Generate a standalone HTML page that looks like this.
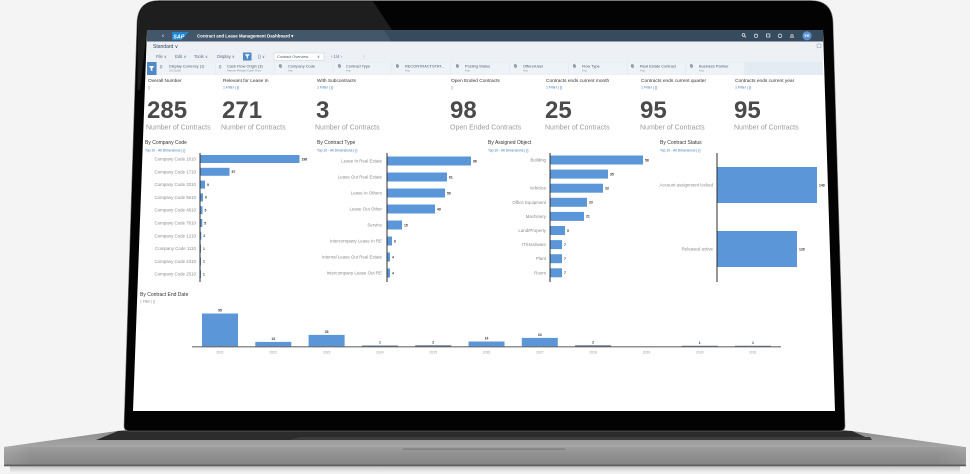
<!DOCTYPE html>
<html><head><meta charset="utf-8">
<style>
html,body{margin:0;padding:0}
body{width:970px;height:474px;overflow:hidden;background:#f4f4f4;position:relative;font-family:"Liberation Sans",sans-serif}
svg{position:absolute;left:0;top:0}
</style></head>
<body>
<svg width="970" height="474" viewBox="0 0 970 474" xmlns="http://www.w3.org/2000/svg" font-family="Liberation Sans, sans-serif">
<defs>
<linearGradient id="edge" x1="0" y1="0" x2="0" y2="1">
<stop offset="0" stop-color="#a4a4a4"/><stop offset="0.35" stop-color="#939393"/><stop offset="1" stop-color="#7f7f7f"/>
</linearGradient>
<linearGradient id="edgeL" x1="0" y1="0" x2="1" y2="0">
<stop offset="0" stop-color="#b8b8b8"/><stop offset="0.03" stop-color="#8f8f8f"/><stop offset="0.97" stop-color="#8f8f8f"/><stop offset="1" stop-color="#b0b0b0"/>
</linearGradient>
<linearGradient id="deck" x1="0" y1="0" x2="0" y2="1">
<stop offset="0" stop-color="#8a8a8a"/><stop offset="1" stop-color="#a6a6a6"/>
</linearGradient>
<linearGradient id="shadow" x1="0" y1="0" x2="0" y2="1">
<stop offset="0" stop-color="#bdbdbd"/><stop offset="1" stop-color="#f4f4f4"/>
</linearGradient>
</defs>

<!-- base -->
<rect x="10" y="465" width="950" height="8" fill="url(#shadow)"/>
<polygon points="124,430 845,430 965,447 4,447" fill="url(#deck)"/>
<polygon points="118,431 852,431 872,440 96,440" fill="#2c2c2c"/>
<polygon points="300,437 870,437 872,440 290,440" fill="#3d3d3d"/>
<path d="M4,447 H966 V462 Q966,466 962,466 H8 Q4,466 4,462 Z" fill="url(#edge)"/>
<path d="M4,447 H966 V462 Q966,466 962,466 H8 Q4,466 4,462 Z" fill="url(#edgeL)" opacity="0.35"/>
<rect x="4" y="464.5" width="962" height="1.8" fill="#5f5f5f"/>
<rect x="403" y="448.5" width="162" height="1.2" fill="#7a7a7a"/>

<!-- lid -->
<path d="M159,0.5 H811 Q832,0.5 833,22 L845,426 Q845,431 840,431 H129 Q124,431 124,426 L137,22 Q138,0.5 159,0.5 Z" fill="#030303" stroke="#7a7a7a" stroke-width="0.6"/>
<path d="M159,1.2 H373 L392,30 H147 L140,90 L137.5,90 L137.8,22 Q138.5,1.2 159,1.2 Z" fill="#1e1e1e"/>
<!-- screen -->
<polygon points="147,30 823,30 835,411 133,411" fill="#ffffff"/>

<!-- shell bar -->
<rect x="147" y="30" width="676" height="11.5" fill="#374b5f"/>
<polygon points="147,30 384,30 391,41.5 147,41.5" fill="#43576b"/>
<text x="162" y="37.6" font-size="6" fill="#fff">‹</text>
<polygon points="172,32 189,32 181,40 172,40" fill="#1f87d2"/>
<text x="173.3" y="38.6" font-size="5.4" font-weight="bold" font-style="italic" fill="#fff">SAP</text>
<text x="197" y="37.3" font-size="4.4" font-weight="bold" fill="#fff">Contract and Lease Management Dashboard ▾</text>
<g fill="none" stroke="#e6ecf2" stroke-width="0.7">
<circle cx="743.5" cy="35" r="1.4"/><line x1="744.5" y1="36" x2="746" y2="37.5"/>
<circle cx="756" cy="35.8" r="1.7"/>
<rect x="766.5" y="34" width="3.4" height="3" />
<circle cx="780" cy="35.8" r="1.8"/>
<path d="M790.5,37.2 H793.5 L793,36.5 V35 Q792,33.6 791,35 V36.5 Z"/>
</g>
<circle cx="807" cy="35.8" r="4.6" fill="#5a8fd1"/>
<text x="807" y="37.1" font-size="3.6" fill="#fff" text-anchor="middle" font-weight="bold">ER</text>

<!-- second rows -->
<rect x="147" y="41.5" width="676" height="20.5" fill="#edf1f5"/>
<text x="153" y="47.8" font-size="5" fill="#32465a">Standard ∨</text>
<rect x="817" y="44" width="4" height="3.6" fill="none" stroke="#8aa0b5" stroke-width="0.5"/>
<g font-size="4.2" fill="#5b6f84">
<text x="156" y="58">File ∨</text>
<text x="175" y="58">Edit ∨</text>
<text x="194" y="58">Tools ∨</text>
<text x="217" y="58">Display ∨</text>
<text x="258" y="58">{} ∨</text>
<text x="331" y="58">‹   1/4   ›</text>
<text x="362" y="58">⋮</text>
</g>
<rect x="243" y="52.5" width="8.5" height="8" fill="#4f89c8"/>
<path d="M244.8,54.3 H249.8 L247.8,56.8 V59 L246.8,58.4 V56.8 Z" fill="#fff"/>
<rect x="274" y="53" width="50" height="7.5" fill="#fff" stroke="#c4ccd4" stroke-width="0.5"/>
<text x="277" y="58" font-size="3.8" fill="#4a5a6a">Contract Overview</text>
<text x="317" y="58" font-size="3.8" fill="#4a5a6a">∨</text>

<!-- filter bar -->
<rect x="147" y="62" width="676" height="13" fill="#e4ebf2"/>
<rect x="147" y="62" width="9.5" height="13" fill="#4f89c8"/>
<path d="M148.8,66 H154.3 L152.3,68.5 V71.2 L150.8,70.4 V68.5 Z" fill="#fff"/>
<g fill="#eef3f8">
<rect x="157.2" y="62.4" width="57.8" height="12.2"/>
<rect x="216" y="62.4" width="57.8" height="12.2"/>
<rect x="274.8" y="62.4" width="57.8" height="12.2"/>
<rect x="333.6" y="62.4" width="57.8" height="12.2"/>
<rect x="392.4" y="62.4" width="57.8" height="12.2"/>
<rect x="451.2" y="62.4" width="57.8" height="12.2"/>
<rect x="510" y="62.4" width="57.8" height="12.2"/>
<rect x="568.8" y="62.4" width="57.8" height="12.2"/>
<rect x="627.6" y="62.4" width="57.8" height="12.2"/>
<rect x="686.4" y="62.4" width="57.8" height="12.2"/>
</g>
<g font-size="3.9" fill="#4a5a6a">
<text x="160" y="67.6">{}</text><text x="169" y="67.4">Display Currency (1)</text>
<text x="219" y="67.6">{}</text><text x="227" y="67.4">Cash Flow Origin (3)</text>
<text x="279" y="67.6">⧉</text><text x="288" y="67.4">Company Code</text>
<text x="338" y="67.6">⧉</text><text x="346" y="67.4">Contract Type</text>
<text x="396" y="67.6">⧉</text><text x="405" y="67.4">RECONTRACTSTAT...</text>
<text x="456" y="67.6">⧉</text><text x="465" y="67.4">Posting Status</text>
<text x="514" y="67.6">⧉</text><text x="523" y="67.4">OffererUser</text>
<text x="573" y="67.6">⧉</text><text x="582" y="67.4">Flow Type</text>
<text x="631" y="67.6">⧉</text><text x="640" y="67.4">Real Estate Contract</text>
<text x="690" y="67.6">⧉</text><text x="699" y="67.4">Business Partner</text>
</g>
<g font-size="2.8" fill="#8a96a2">
<text x="169" y="71.4">US Dollar</text>
<text x="227" y="71.4">Partner-Related Cash Flow</text>
<text x="288" y="71.4">Any</text><text x="346" y="71.4">Any</text><text x="405" y="71.4">Any</text>
<text x="465" y="71.4">Any</text><text x="523" y="71.4">Any</text><text x="582" y="71.4">Any</text>
<text x="640" y="71.4">Any</text><text x="699" y="71.4">Any</text>
</g>

<!-- KPI tiles -->
<g font-size="4.8" fill="#333">
<text x="148" y="81.8">Overall Number</text>
<text x="223" y="81.8">Relevant for Lease In</text>
<text x="317" y="81.8">With Subcontracts</text>
<text x="451" y="81.8">Open Ended Contracts</text>
<text x="546" y="81.8">Contracts ends current month</text>
<text x="641" y="81.8">Contracts ends current quarter</text>
<text x="735" y="81.8">Contracts ends current year</text>
</g>
<g font-size="3.6">
<text x="148" y="88.6" fill="#999">{}</text>
<text x="223" y="88.6" fill="#3a77b8">1 Filter | {}</text>
<text x="317" y="88.6" fill="#3a77b8">1 Filter | {}</text>
<text x="451" y="88.6" fill="#999">{}</text>
<text x="546" y="88.6" fill="#3a77b8">1 Filter | {}</text>
<text x="641" y="88.6" fill="#3a77b8">1 Filter | {}</text>
<text x="735" y="88.6" fill="#3a77b8">1 Filter | {}</text>
</g>
<g font-size="24" font-weight="bold" fill="#4a4a4a">
<text x="147" y="118">285</text>
<text x="222" y="118">271</text>
<text x="316" y="118">3</text>
<text x="450" y="118">98</text>
<text x="545" y="118">25</text>
<text x="640" y="118">95</text>
<text x="734" y="118">95</text>
</g>
<g font-size="7" fill="#9b9b9b">
<text x="146" y="129.3">Number of Contracts</text>
<text x="221" y="129.3">Number of Contracts</text>
<text x="315" y="129.3">Number of Contracts</text>
<text x="450" y="129.3">Open Ended Contracts</text>
<text x="545" y="129.3">Number of Contracts</text>
<text x="640" y="129.3">Number of Contracts</text>
<text x="734" y="129.3">Number of Contracts</text>
</g>

<!-- chart titles -->
<g font-size="5" fill="#333">
<text x="145" y="143.8">By Company Code</text>
<text x="317" y="143.8">By Contract Type</text>
<text x="488" y="143.8">By Assigned Object</text>
<text x="660" y="143.8">By Contract Status</text>
</g>
<g font-size="3.4" fill="#3a77b8">
<text x="145" y="151.3">Top 10 - All Dimensions | {}</text>
<text x="317" y="151.3">Top 10 - All Dimensions | {}</text>
<text x="488" y="151.3">Top 10 - All Dimensions | {}</text>
<text x="660" y="151.3">Top 10 - All Dimensions | {}</text>
</g>

<!-- axes -->
<g stroke="#2e2e2e" stroke-width="1">
<line x1="200" y1="153" x2="200" y2="282"/>
<line x1="387" y1="153" x2="387" y2="282"/>
<line x1="550" y1="153" x2="550" y2="282"/>
<line x1="717" y1="153" x2="717" y2="282"/>
</g>

<!-- chart 1 -->
<g fill="#5b97d8">
<rect x="200.5" y="155" width="99" height="8"/>
<rect x="200.5" y="167.8" width="29" height="8"/>
<rect x="200.5" y="180.6" width="4.5" height="8"/>
<rect x="200.5" y="193.4" width="2.5" height="8"/>
<rect x="200.5" y="206.2" width="2" height="8"/>
<rect x="200.5" y="219" width="1.8" height="8"/>
<rect x="200.5" y="231.8" width="0.8" height="8"/>
<rect x="200.5" y="244.6" width="0.5" height="8"/>
<rect x="200.5" y="257.4" width="0.5" height="8"/>
<rect x="200.5" y="270.2" width="0.5" height="8"/>
</g>
<g font-size="3.4" font-weight="bold" fill="#333">
<text x="301.5" y="160.3">196</text>
<text x="231.5" y="173.1">57</text>
<text x="207" y="185.9">9</text>
<text x="205" y="198.7">6</text>
<text x="204.5" y="211.5">5</text>
<text x="204.3" y="224.3">5</text>
<text x="203.3" y="237.1">2</text>
<text x="203" y="249.9">1</text>
<text x="203" y="262.7">1</text>
<text x="203" y="275.5">1</text>
</g>
<g font-size="4.4" fill="#8a8a8a" text-anchor="end">
<text x="196" y="160.5">Company Code 1010</text>
<text x="196" y="173.3">Company Code 1710</text>
<text x="196" y="186.1">Company Code 3310</text>
<text x="196" y="198.9">Company Code 5610</text>
<text x="196" y="211.7">Company Code 4610</text>
<text x="196" y="224.5">Company Code 7610</text>
<text x="196" y="237.3">Company Code 1210</text>
<text x="196" y="250.1">Company Code 1110</text>
<text x="196" y="262.9">Company Code 2310</text>
<text x="196" y="275.7">Company Code 2510</text>
</g>

<!-- chart 2 -->
<g fill="#5b97d8">
<rect x="387.5" y="156.5" width="83.5" height="9"/>
<rect x="387.5" y="172.5" width="59.5" height="9"/>
<rect x="387.5" y="188.5" width="57.5" height="9"/>
<rect x="387.5" y="204.5" width="47.5" height="9"/>
<rect x="387.5" y="220.5" width="14.5" height="9"/>
<rect x="387.5" y="236.5" width="4.5" height="9"/>
<rect x="387.5" y="252.5" width="2.5" height="9"/>
<rect x="387.5" y="268.5" width="2.5" height="9"/>
</g>
<g font-size="3.4" font-weight="bold" fill="#333">
<text x="473" y="162.3">96</text>
<text x="449" y="178.3">61</text>
<text x="447" y="194.3">59</text>
<text x="437" y="210.3">49</text>
<text x="404" y="226.3">15</text>
<text x="394" y="242.3">6</text>
<text x="392" y="258.3">4</text>
<text x="392" y="274.3">4</text>
</g>
<g font-size="4.4" fill="#8a8a8a" text-anchor="end">
<text x="382" y="162.5">Lease In Real Estate</text>
<text x="382" y="178.5">Lease Out Real Estate</text>
<text x="382" y="194.5">Lease In Others</text>
<text x="382" y="210.5">Lease Out Other</text>
<text x="382" y="226.5">Service</text>
<text x="382" y="242.5">Intercompany Lease In RE</text>
<text x="382" y="258.5">Internal Lease Out Real Estate</text>
<text x="382" y="274.5">Intercompany Lease Out RE</text>
</g>

<!-- chart 3 -->
<g fill="#5b97d8">
<rect x="550.5" y="155.5" width="92.5" height="9"/>
<rect x="550.5" y="169.6" width="57.5" height="9"/>
<rect x="550.5" y="183.7" width="52.5" height="9"/>
<rect x="550.5" y="197.8" width="36.5" height="9"/>
<rect x="550.5" y="211.9" width="33.5" height="9"/>
<rect x="550.5" y="226" width="14.5" height="9"/>
<rect x="550.5" y="240.1" width="11.5" height="9"/>
<rect x="550.5" y="254.2" width="11.5" height="9"/>
<rect x="550.5" y="268.3" width="11.5" height="9"/>
</g>
<g font-size="3.4" font-weight="bold" fill="#333">
<text x="645" y="161.3">58</text>
<text x="610" y="175.4">35</text>
<text x="605" y="189.5">33</text>
<text x="589" y="203.6">23</text>
<text x="586" y="217.7">21</text>
<text x="567" y="231.8">9</text>
<text x="564" y="245.9">7</text>
<text x="564" y="260">7</text>
<text x="564" y="274.1">7</text>
</g>
<g font-size="4.4" fill="#8a8a8a" text-anchor="end">
<text x="546" y="161.5">Building</text>
<text x="546" y="175.6">-</text>
<text x="546" y="189.7">Vehicles</text>
<text x="546" y="203.8">Office Equipment</text>
<text x="546" y="217.9">Machinery</text>
<text x="546" y="232">Land/Property</text>
<text x="546" y="246.1">IT/Hardware</text>
<text x="546" y="260.2">Plant</text>
<text x="546" y="274.3">Room</text>
</g>

<!-- chart 4 -->
<g fill="#5b97d8">
<rect x="717.5" y="167" width="99.5" height="36"/>
<rect x="717.5" y="231" width="79.5" height="36"/>
</g>
<g font-size="3.4" font-weight="bold" fill="#333">
<text x="819" y="186.3">149</text>
<text x="799" y="250.3">128</text>
</g>
<g font-size="4.4" fill="#8a8a8a" text-anchor="end">
<text x="713" y="186.5">Account assignment locked</text>
<text x="713" y="250.5">Released active</text>
</g>

<!-- bottom chart -->
<text x="140" y="295.8" font-size="5" fill="#333">By Contract End Date</text>
<text x="140" y="302.3" font-size="3.4" fill="#8a8a8a">1 Filter | {}</text>
<g fill="#5b97d8">
<rect x="202" y="313.5" width="36" height="33"/>
<rect x="255.3" y="341.9" width="36" height="4.6"/>
<rect x="308.6" y="334.9" width="36" height="11.6"/>
<rect x="468.5" y="341.5" width="36" height="5"/>
<rect x="521.8" y="337.9" width="36" height="8.6"/>
</g>
<g fill="#3c5a7a">
<rect x="361.9" y="345.6" width="36" height="1"/>
<rect x="415.2" y="345.4" width="36" height="1.2"/>
<rect x="575.1" y="345.4" width="36" height="1.2"/>
<rect x="681.7" y="345.8" width="36" height="0.8"/>
<rect x="735" y="345.8" width="36" height="0.8"/>
</g>
<line x1="192" y1="346.8" x2="781" y2="346.8" stroke="#6b6b6b" stroke-width="1.1"/>
<g font-size="3.4" font-weight="bold" fill="#333" text-anchor="middle">
<text x="220" y="311.5">95</text>
<text x="273.3" y="339.9">13</text>
<text x="326.6" y="332.9">33</text>
<text x="379.9" y="343.6">1</text>
<text x="433.2" y="343.4">2</text>
<text x="486.5" y="339.5">14</text>
<text x="539.8" y="335.9">24</text>
<text x="593.1" y="343.4">2</text>
<text x="699.7" y="343.8">1</text>
<text x="753" y="343.8">1</text>
</g>
<g font-size="3.4" fill="#9a9a9a" text-anchor="middle">
<text x="220" y="353.6">2021</text>
<text x="273.3" y="353.6">2022</text>
<text x="326.6" y="353.6">2023</text>
<text x="379.9" y="353.6">2024</text>
<text x="433.2" y="353.6">2025</text>
<text x="486.5" y="353.6">2026</text>
<text x="539.8" y="353.6">2027</text>
<text x="593.1" y="353.6">2028</text>
<text x="646.4" y="353.6">2029</text>
<text x="699.7" y="353.6">2030</text>
<text x="753" y="353.6">2031</text>
</g>
</svg>
</body></html>
